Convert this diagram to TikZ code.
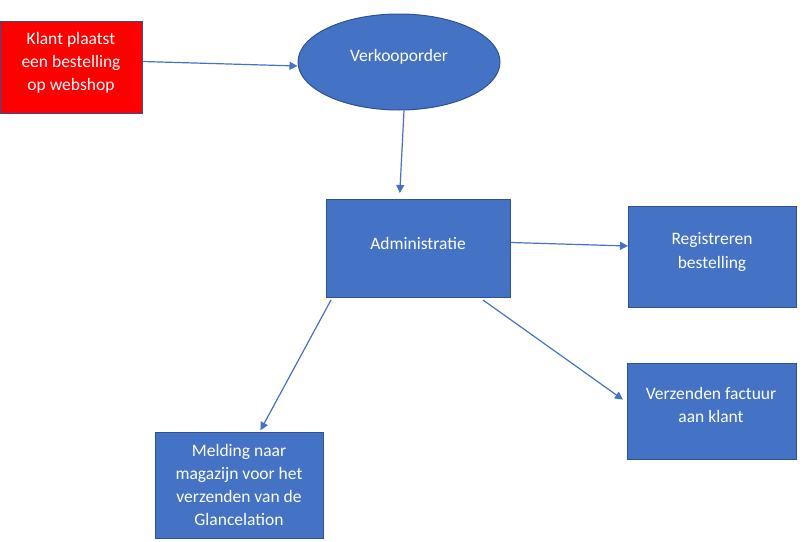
\documentclass[tikz,border=0pt]{standalone}
\usepackage{fontspec}
\setmainfont{Carlito}
\usetikzlibrary{arrows.meta,shapes.geometric}
\definecolor{ofblue}{HTML}{4472C4}
\definecolor{ofborder}{HTML}{2F528F}
\definecolor{ofred}{HTML}{FF0000}
\tikzset{
  box/.style={draw=ofborder, line width=1pt, fill=ofblue, minimum width=#1, inner sep=0pt, anchor=north west, rectangle},
  txt/.style={text=white, align=center, font=\fontsize{17.5}{23.3}\selectfont, inner sep=0pt, anchor=center},
  conn/.style={draw=ofblue, line width=1.2pt, -{Triangle[length=8pt,width=8pt]}}
}
\begin{document}
\begin{tikzpicture}[x=1pt,y=-1pt]
\useasboundingbox (0,0) rectangle (800,541);
% boxes
\node[box=142pt, fill=ofred, minimum height=92pt] (klant) at (0,21) {};
\node[draw=ofborder, line width=1pt, fill=ofblue, ellipse, minimum width=202pt, minimum height=96pt, inner sep=0pt] (verk) at (399,62) {};
\node[box=184pt, minimum height=98pt] (adm) at (326,199) {};
\node[box=168pt, minimum height=101pt] (reg) at (628,206) {};
\node[box=169pt, minimum height=96pt] (fact) at (627,363) {};
\node[box=168pt, minimum height=106pt] (mel) at (155,432) {};
% texts
\node[txt] (tklant) at (71,63) {Klant plaatst\\een bestelling\\op webshop};
\node[txt] (tverk) at (399,57) {Verkooporder};
\node[txt] (tadm) at (418,243) {Administratie};
\node[txt] (treg) at (712,252) {Registreren\\bestelling};
\node[txt] (tfact) at (711,405) {Verzenden factuur\\aan klant};
\node[txt] (tmel) at (239,485) {Melding naar\\magazijn voor het\\verzenden van de\\Glancelation};
% connectors
\draw[conn] ([yshift=6pt]klant.east) -- ([yshift=-4pt]verk.west);
\draw[conn, shorten >=6pt] ([xshift=5pt]verk.south) -- ([xshift=-19pt]adm.north);
\draw[conn] ([yshift=6pt]adm.east) -- ([yshift=11pt]reg.west);
\draw[conn, shorten >=2pt] ([xshift=5pt,yshift=-2pt]adm.south west) -- ([xshift=20pt]mel.north);
\draw[conn, shorten >=5pt] ([xshift=-28pt,yshift=-2pt]adm.south east) -- ([yshift=9pt]fact.west);
\end{tikzpicture}
\end{document}
